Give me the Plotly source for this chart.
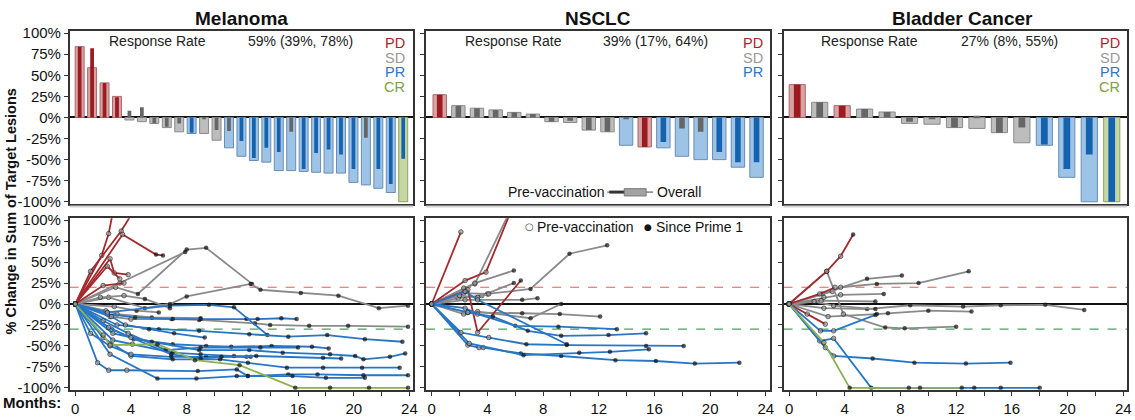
import plotly.graph_objects as go

W, H = 1135, 420
def PX(x): return x / W
def PY(y): return 1 - y / H

FONT = "Arial, Liberation Sans, sans-serif"

# ---------------- DATA ----------------
panel_titles = ["Melanoma", "NSCLC", "Bladder Cancer"]
response_rates = ["59% (39%, 78%)", "39% (17%, 64%)", "27% (8%, 55%)"]
legend_classes = [["PD", "SD", "PR", "CR"], ["PD", "SD", "PR"], ["PD", "SD", "PR", "CR"]]

# Waterfall: overall best change (wide bar) and pre-vaccination change (narrow bar)
mel_overall = [84, 59, 41, 25, -3, -5, -7, -12, -17, -19, -19, -27, -36, -46, -51, -53,
               -63, -63, -64, -65, -66, -66, -77, -80, -84, -89, -100]
mel_overall_cls = ["PD", "PD", "PD", "PD", "SD", "SD", "SD", "SD", "SD", "PR", "SD", "SD", "PR", "PR", "PR", "PR",
                   "PR", "PR", "PR", "PR", "PR", "PR", "PR", "PR", "PR", "PR", "CR"]
mel_pre = [84, 82, 41, 24, 8, 12, -7, -11, -7, -18, -1, -15, -16, -28, -48, -36,
           -41, -17, -61, -42, -38, -44, -61, -24, -61, -79, -49]
mel_pre_cls = ["PD", "PD", "PD", "PD", "SD", "SD", "SD", "SD", "SD", "PR", "SD", "SD", "SD", "PR", "PR", "PR",
               "PR", "SD", "PR", "PR", "PR", "PR", "PR", "SD", "PR", "PR", "PR"]

nsc_overall = [27, 14, 11, 9, 6, 4, -5, -6, -15, -17, -33, -35, -36, -46, -50, -50, -59, -71]
nsc_overall_cls = ["PD", "SD", "SD", "SD", "SD", "SD", "SD", "SD", "SD", "SD", "PR", "PD", "PR", "PR", "PR", "PR", "PR", "PR"]
nsc_pre = [27, 14, 11, 9, 6, 4, -5, -4, -15, -17, -2, -35, -29, -13, -17, -41, -53, -53]
nsc_pre_cls = ["PD", "SD", "SD", "SD", "SD", "SD", "SD", "SD", "SD", "SD", "SD", "PD", "PR", "SD", "SD", "PR", "PR", "PR"]

bla_overall = [39, 18, 14, 10, 6.5, -7, -8, -12, -13, -18, -30, -33, -71, -100, -100]
bla_overall_cls = ["PD", "SD", "PD", "SD", "SD", "SD", "SD", "SD", "SD", "SD", "SD", "PR", "PR", "PR", "CR"]
bla_pre = [39, 18, 14, 10, 6.5, -5, -1, -12, 2, -18, -12, -32, -61, -44, -100]
bla_pre_cls = ["PD", "SD", "PD", "SD", "SD", "SD", "SD", "SD", "SD", "SD", "SD", "PR", "PR", "PR", "PR"]

# Spider plots: (class, months, % change)
mel_lines = [
    ("SD", [0, 2.9, 4.5, 8.0, 9.4, 12.7], [0, 20, 12, 65, 67, 24]),
    ("SD", [0, 2.4, 5.0, 6.8, 8.0, 12.6, 13.3, 16.2, 18.9, 21.8, 23.9], [0, 8, -5, 0, 9, 24, 17, 13, 10, -5, -2]),
    ("SD", [0, 3.2, 7.9], [0, 25, 62]),
    ("SD", [0, 2.5, 4.0, 6.9, 8.9, 12.9, 14.0, 16.8, 19.6, 23.9], [0, -15, -18, -18, -19, -23, -25, -26, -26, -27]),
    ("SD", [0, 1.8, 3.5, 5.0, 6.8], [0, 8, 10, 6, -5]),
    ("SD", [0, 2.2, 3.0, 5.5, 9.0], [0, -8, -12, -16, -17]),
    ("SD", [0, 2.8, 4.4, 6.0], [0, -3, -8, -10]),
    ("PD", [0, 1.9, 2.4, 3.0], [0, 58, 84, 135]),
    ("PD", [0, 1.1, 3.3, 4.7], [0, 39, 87, 125]),
    ("PD", [0, 3.4, 5.8, 6.3], [0, 83, 59, 58]),
    ("PD", [0, 2.5, 2.8, 3.8], [0, 54, 37, 35]),
    ("PD", [0, 2.3, 3.2], [0, 45, 30]),
    ("PD", [0, 2.0, 3.5], [0, 22, 25]),
    ("PR", [0, 2.3, 4.3, 7.0, 9.0, 12.3, 13.1, 14.8, 15.9], [0, -12, -16, -18, -18, -18, -18, -17, -18]),
    ("PR", [0, 2.3, 6.8, 9.6, 11.4, 13.8], [0, -10, -2, -1, -4, -37]),
    ("PR", [0, 3.0, 6.0, 8.9, 12.5, 15.3, 18.1, 20.8, 23.5], [0, -25, -30, -32, -36, -39, -37, -42, -45]),
    ("PR", [0, 2.6, 4.2, 7.0, 9.4, 11.2, 14.1, 17.0, 18.2], [0, -30, -42, -48, -50, -51, -50, -51, -53]),
    ("PR", [0, 2.7, 5.5, 8.9, 12.5, 14.9, 18.3, 20.1, 20.7, 22.6, 23.7], [0, -35, -45, -55, -55, -58, -60, -62, -66, -63, -59]),
    ("PR", [0, 2.0, 4.0, 7.0, 10.4, 12.4, 15.2, 17.8, 20.6, 23.3], [0, -40, -62, -66, -66, -70, -76, -76, -76, -76]),
    ("PR", [0, 1.6, 2.4, 3.7, 8.8, 11.6, 12.4, 15.3, 17.4, 20.7, 23.9], [0, -70, -79, -79, -80, -78, -86, -84, -84, -85, -85]),
    ("PR", [0, 2.5, 5.9, 8.7, 11.6, 12.4, 15.6, 18.0, 20.8], [0, -60, -89, -89, -86, -86, -86, -88, -88]),
    ("PR", [0, 1.1, 2.5, 4.0, 6.9, 9.4, 12.3], [0, -35, -50, -60, -63, -63, -63]),
    ("PR", [0, 2.7, 4.1, 7.0, 9.0, 11.4, 12.6], [0, -43, -48, -58, -60, -62, -63]),
    ("PR", [0, 2.0, 3.8, 6.5, 9.0, 13.3, 16.0], [0, -20, -35, -55, -52, -52, -52]),
    ("PR", [0, 2.4, 4.0, 6.9, 9.0, 10.5, 13.0, 17.8, 19.1], [0, -28, -40, -60, -65, -63, -62, -64, -65]),
    ("PR", [0, 2.6, 3.6, 5.3, 7.1, 9.3], [0, -15, -25, -30, -35, -40]),
    ("CR", [0, 2.0, 2.5, 5.9, 8.6, 11.8, 15.8, 18.3, 21.1, 23.9], [0, -37, -49, -48, -67, -73, -100, -100, -100, -100]),
]

nsc_lines = [
    ("SD", [0, 3.1, 5.6], [0, 24, 110]),
    ("SD", [0, 2.3, 3.1, 5.9], [0, 19, 25, 40]),
    ("SD", [0, 1.9, 3.6, 5.9], [0, 7, 10, 25]),
    ("SD", [0, 2.3, 4.0, 7.1, 9.9, 12.6], [0, 13, 12, 18, 60, 70]),
    ("SD", [0, 2.3, 3.3, 7.1, 9.3], [0, -12, -9, -17, 0]),
    ("SD", [0, 2.6, 6.5, 9.2, 12.1], [0, -10, -11, -12, -15]),
    ("SD", [0, 2.4, 6.5, 7.6], [0, 5, 5, 7]),
    ("SD", [0, 2.0, 3.3, 4.1], [0, 10, 8, 12]),
    ("PD", [0, 2.1], [0, 86]),
    ("PD", [0, 2.4, 3.9, 5.8], [0, 28, 38, 115]),
    ("PD", [0, 2.6, 3.3, 6.4], [0, 17, -34, 28]),
    ("PR", [0, 2.6, 3.4, 3.7, 6.4, 9.3, 13.2, 16.1, 18.9, 22.1], [0, -49, -52, -52, -59, -62, -67, -68, -71, -70]),
    ("PR", [0, 2.7, 6.6, 10.6, 12.8, 15.6], [0, -47, -61, -58, -57, -54]),
    ("PR", [0, 2.1, 4.1, 6.8, 9.7, 15.4, 18.1], [0, -34, -40, -48, -49, -50, -50]),
    ("PR", [0, 2.4, 3.3, 6.0, 9.1, 13.3], [0, -5, -12, -26, -27, -30]),
    ("PR", [0, 2.6, 4.4, 6.9, 9.3, 12.7, 15.4], [0, -10, -15, -32, -38, -37, -35]),
    ("PR", [0, 2.4, 3.3, 9.7], [0, 15, 5, -48]),
]

bla_lines = [
    ("SD", [0, 2.4, 5.6, 8.1], [0, 12, 30, 34]),
    ("SD", [0, 3.1, 3.7, 6.3, 9.3, 12.9], [0, 15, 20, 24, 25, 39]),
    ("SD", [0, 2.5, 3.7, 6.8], [0, 8, 11, 12]),
    ("SD", [0, 2.5, 5.6, 8.7, 12.5, 15.2, 18.4, 21.2], [0, -5, -6, -1.5, -3, -1.5, -1, -7]),
    ("SD", [0, 2.8, 6.3, 7.1, 10.0, 13.1], [0, -15, -12, -11, -8, -9]),
    ("SD", [0, 2.7, 3.9, 6.9, 8.3, 12.0], [0, 39, -12, -28, -29, -27]),
    ("SD", [0, 2.3, 6.2], [0, 4, 3]),
    ("SD", [0, 1.8, 3.2, 6.2], [0, 3, -2, -6]),
    ("PD", [0, 2.7, 3.7, 4.6], [0, 39, 57, 83]),
    ("PD", [0, 2.2, 3.3], [0, 12, 20]),
    ("PD", [0, 1.3, 2.6], [0, -12, -24]),
    ("PR", [0, 2.25, 3.2, 6.2], [0, -32, -32, -13]),
    ("PR", [0, 2.2, 3.2, 5.9, 13.3, 15.2, 18.0], [0, -44, -41, -100, -100, -100, -100]),
    ("PR", [0, 2.6, 3.2, 6.0, 9.0, 12.7, 15.9], [0, -52, -62, -65, -70, -71, -70]),
    ("CR", [0, 2.5, 4.35, 8.6, 9.4, 12.4], [0, -46, -100, -100, -100, -100]),
]

y_ticks = [-100, -75, -50, -25, 0, 25, 50, 75, 100]
month_ticks = list(range(0, 25, 2))
PRE_CUTOFF = 4.2  # months: earlier assessments are pre-vaccination

# ---------------- STYLE ----------------
wide_fill = {"PD": "#D9A3A5", "SD": "#BDBDBD", "PR": "#9DC3E6", "CR": "#C6D7A3"}
wide_line = {"PD": "#A86A6C", "SD": "#8A8A8A", "PR": "#6A8DB3", "CR": "#8AA55F"}
narrow_fill = {"PD": "#9B1B20", "SD": "#666666", "PR": "#1562AE", "CR": "#6E9A3A"}
line_col = {"PD": "#A52A2D", "SD": "#8A8A8A", "PR": "#2877C6", "CR": "#8DB052"}
legend_col = {"PD": "#A8262B", "SD": "#999999", "PR": "#2E76C8", "CR": "#7FA03F"}

cols_px = [(70, 415), (428, 773), (787, 1132)]
top_px = (25, 203)
bot_px = (218, 395)
bar_ranges = [[-0.8, 26.8], [-0.73, 17.7], [-0.61, 14.68]]
Y_RANGE = [-102.3, 102.3]
X_RANGE = [-0.4, 24.27]

fig = go.Figure()

waterfalls = [
    (mel_overall, mel_overall_cls, mel_pre, mel_pre_cls),
    (nsc_overall, nsc_overall_cls, nsc_pre, nsc_pre_cls),
    (bla_overall, bla_overall_cls, bla_pre, bla_pre_cls),
]
spiders = [mel_lines, nsc_lines, bla_lines]

for i, (ov, ovc, pr, prc) in enumerate(waterfalls):
    xa = "x" if i == 0 else f"x{i+1}"
    ya = "y" if i == 0 else f"y{i+1}"
    xs = list(range(len(ov)))
    fig.add_trace(go.Bar(x=xs, y=ov, width=0.72, xaxis=xa, yaxis=ya,
                         marker=dict(color=[wide_fill[c] for c in ovc],
                                     line=dict(color=[wide_line[c] for c in ovc], width=1)),
                         showlegend=False, hoverinfo="skip"))
    fig.add_trace(go.Bar(x=xs, y=pr, width=0.3, xaxis=xa, yaxis=ya,
                         marker=dict(color=[narrow_fill[c] for c in prc], line=dict(width=0)),
                         showlegend=False, hoverinfo="skip"))

order = {"SD": 0, "PD": 1, "PR": 2, "CR": 3}
for i, lines in enumerate(spiders):
    xa = f"x{i+4}"
    ya = f"y{i+4}"
    for cls, ms, vs in sorted(lines, key=lambda t: order[t[0]]):
        pre = [m < PRE_CUTOFF for m in ms]
        fig.add_trace(go.Scatter(
            x=ms, y=vs, xaxis=xa, yaxis=ya, mode="lines+markers",
            line=dict(color=line_col[cls], width=1.8),
            marker=dict(size=[4.5 if p else 4.5 for p in pre],
                        color=["#9a9a9a" if p else "#111111" for p in pre],
                        line=dict(color="#222222", width=[1 if p else 0 for p in pre])),
            showlegend=False, hoverinfo="skip", cliponaxis=True))

layout = dict(width=W, height=H, margin=dict(l=0, r=0, t=0, b=0),
              paper_bgcolor="white", plot_bgcolor="white", barmode="overlay",
              font=dict(family=FONT, size=15, color="#111"))

axis_common = dict(showline=True, mirror=True, linecolor="#333333", linewidth=1.5,
                   showgrid=False)
shapes = []
annotations = []
for i in range(3):
    l, r = cols_px[i]
    dom = [PX(l), PX(r)]
    n = "" if i == 0 else str(i + 1)
    # top
    layout[f"xaxis{n}"] = dict(domain=dom, range=bar_ranges[i], anchor=f"y{n}",
                               showticklabels=False, ticks="", zeroline=False, **axis_common)
    layout[f"yaxis{n}"] = dict(domain=[PY(top_px[1]), PY(top_px[0])], range=Y_RANGE, anchor=f"x{n}",
                               tickvals=y_ticks, ticktext=[f"{v}%" for v in y_ticks],
                               showticklabels=(i == 0), ticks="outside", ticklen=4,
                               tickcolor="#333", tickwidth=1,
                               zeroline=True, zerolinecolor="#111", zerolinewidth=1.5,
                               **axis_common)
    # bottom
    b = str(i + 4)
    layout[f"xaxis{b}"] = dict(domain=dom, range=X_RANGE, anchor=f"y{b}",
                               tickvals=month_ticks,
                               ticktext=[str(m) if m % 4 == 0 else "" for m in month_ticks],
                               ticks="outside", ticklen=4, tickcolor="#333", tickwidth=1,
                               zeroline=False, **axis_common)
    layout[f"yaxis{b}"] = dict(domain=[PY(bot_px[1]), PY(bot_px[0])], range=Y_RANGE, anchor=f"x{b}",
                               tickvals=y_ticks, ticktext=[f"{v}%" for v in y_ticks],
                               showticklabels=(i == 0), ticks="outside", ticklen=4,
                               tickcolor="#333", tickwidth=1,
                               zeroline=True, zerolinecolor="#111", zerolinewidth=1.6,
                               **axis_common)
    # threshold lines
    shapes.append(dict(type="line", xref=f"x{b} domain", yref=f"y{b}", x0=0, x1=1, y0=20, y1=20,
                       line=dict(color="#F05A5A", width=1.1, dash="dash"), layer="below"))
    shapes.append(dict(type="line", xref=f"x{b} domain", yref=f"y{b}", x0=0, x1=1, y0=-30, y1=-30,
                       line=dict(color="#4FA060", width=1.1, dash="dash"), layer="below"))
    # light separator
    shapes.append(dict(type="line", xref="paper", yref="paper", x0=PX(l), x1=PX(r),
                       y0=PY(206), y1=PY(206), line=dict(color="#d2d2d2", width=2)))
    # titles
    title_x = [242.5, 601, 967][i]
    annotations.append(dict(text=f"<b>{panel_titles[i]}</b>", x=PX(title_x), y=PY(12), xref="paper",
                            yref="paper", showarrow=False, font=dict(size=19, color="#111"),
                            xanchor="center", yanchor="middle"))
    # response rate
    rr_x = [107, 465, 823][i]
    rv_x = [247, 604, 963][i]
    annotations.append(dict(text="Response Rate", x=PX(rr_x), y=PY(35), xref="paper", yref="paper",
                            showarrow=False, font=dict(size=14, color="#222"),
                            xanchor="left", yanchor="middle"))
    annotations.append(dict(text=response_rates[i], x=PX(rv_x), y=PY(35), xref="paper", yref="paper",
                            showarrow=False, font=dict(size=14, color="#222"),
                            xanchor="left", yanchor="middle"))
    # class legend
    lx = [409, 768, 1127][i]
    for k, c in enumerate(legend_classes[i]):
        annotations.append(dict(text=c, x=PX(lx), y=PY(37 + 15.2 * k), xref="paper", yref="paper",
                                showarrow=False, font=dict(size=14.5, color=legend_col[c]),
                                xanchor="right", yanchor="middle"))

# waterfall bar-type key (NSCLC top)
annotations.append(dict(text="Pre-vaccination", x=PX(610), y=PY(191), xref="paper", yref="paper",
                        showarrow=False, font=dict(size=14, color="#111"), xanchor="right", yanchor="middle"))
annotations.append(dict(text="Overall", x=PX(658), y=PY(191), xref="paper", yref="paper",
                        showarrow=False, font=dict(size=14, color="#111"), xanchor="left", yanchor="middle"))
shapes.append(dict(type="line", xref="paper", yref="paper", x0=PX(610), x1=PX(656), y0=PY(191), y1=PY(191),
                   line=dict(color="#444", width=1)))
shapes.append(dict(type="line", xref="paper", yref="paper", x0=PX(612), x1=PX(628), y0=PY(191), y1=PY(191),
                   line=dict(color="#333", width=3)))
shapes.append(dict(type="rect", xref="paper", yref="paper", x0=PX(627), x1=PX(649), y0=PY(195), y1=PY(187.5),
                   fillcolor="#a3a3a3", line=dict(color="#777", width=1)))

# spider marker key (NSCLC bottom)
annotations.append(dict(text="○", x=PX(532), y=PY(227), xref="paper", yref="paper", showarrow=False,
                        font=dict(size=10, color="#444", family="DejaVu Sans"), xanchor="center", yanchor="middle"))
annotations.append(dict(text="Pre-vaccination", x=PX(537), y=PY(227), xref="paper", yref="paper",
                        showarrow=False, font=dict(size=14, color="#111"), xanchor="left", yanchor="middle"))
annotations.append(dict(text="●", x=PX(651), y=PY(227), xref="paper", yref="paper", showarrow=False,
                        font=dict(size=9, color="#111", family="DejaVu Sans"), xanchor="center", yanchor="middle"))
annotations.append(dict(text="Since Prime 1", x=PX(657), y=PY(227), xref="paper", yref="paper",
                        showarrow=False, font=dict(size=14, color="#111"), xanchor="left", yanchor="middle"))

# shared y title and months label
annotations.append(dict(text="<b>% Change in Sum of Target Lesions</b>", x=PX(12), y=PY(211),
                        xref="paper", yref="paper", showarrow=False, textangle=-90,
                        font=dict(size=14.5, color="#111"), xanchor="center", yanchor="middle"))
annotations.append(dict(text="<b>Months:</b>", x=PX(63), y=PY(408), xref="paper", yref="paper",
                        showarrow=False, font=dict(size=15, color="#111"), xanchor="right", yanchor="middle"))

layout["shapes"] = shapes
layout["annotations"] = annotations
fig.update_layout(**layout)
fig.write_html("out.html")
